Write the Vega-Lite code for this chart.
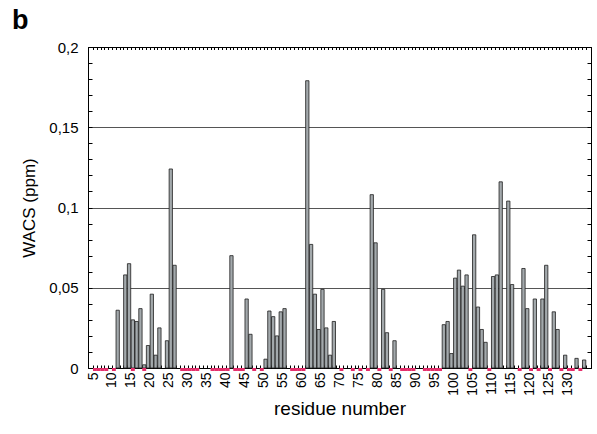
{
  "$schema": "https://vega.github.io/schema/vega-lite/v6.json",
  "width": 503,
  "height": 321,
  "autosize": {"type": "none"},
  "padding": {"left": 88, "top": 47, "right": 6, "bottom": 66},
  "background": "white",
  "config": {
    "font": "Liberation Sans",
    "view": {"stroke": "black", "strokeWidth": 1},
    "axis": {"domainColor": "black", "tickColor": "black", "labelColor": "black", "titleColor": "black", "titleFontWeight": "normal", "labelFlush": false, "labelOverlap": false}
  },
  "title": {"text": "b", "anchor": "start", "frame": "group", "dx": -76, "dy": 33, "offset": 17, "fontSize": 27, "fontWeight": "bold", "font": "Liberation Sans", "color": "black", "baseline": "alphabetic"},
  "datasets": {
    "wacs": [
      {"residue": 11, "wacs": 0.036}, {"residue": 13, "wacs": 0.058}, {"residue": 14, "wacs": 0.065},
      {"residue": 15, "wacs": 0.030}, {"residue": 16, "wacs": 0.029}, {"residue": 17, "wacs": 0.037},
      {"residue": 18, "wacs": 0.002}, {"residue": 19, "wacs": 0.014}, {"residue": 20, "wacs": 0.046},
      {"residue": 21, "wacs": 0.008}, {"residue": 22, "wacs": 0.025}, {"residue": 24, "wacs": 0.017},
      {"residue": 25, "wacs": 0.124}, {"residue": 26, "wacs": 0.064},
      {"residue": 41, "wacs": 0.070}, {"residue": 45, "wacs": 0.043}, {"residue": 46, "wacs": 0.021},
      {"residue": 50, "wacs": 0.0055}, {"residue": 51, "wacs": 0.0355}, {"residue": 52, "wacs": 0.032},
      {"residue": 53, "wacs": 0.020}, {"residue": 54, "wacs": 0.035}, {"residue": 55, "wacs": 0.037},
      {"residue": 61, "wacs": 0.179}, {"residue": 62, "wacs": 0.077}, {"residue": 63, "wacs": 0.046},
      {"residue": 64, "wacs": 0.024}, {"residue": 65, "wacs": 0.049}, {"residue": 66, "wacs": 0.025},
      {"residue": 67, "wacs": 0.008}, {"residue": 68, "wacs": 0.029},
      {"residue": 78, "wacs": 0.108}, {"residue": 79, "wacs": 0.078}, {"residue": 81, "wacs": 0.049},
      {"residue": 82, "wacs": 0.022}, {"residue": 84, "wacs": 0.017},
      {"residue": 97, "wacs": 0.027}, {"residue": 98, "wacs": 0.029}, {"residue": 99, "wacs": 0.009},
      {"residue": 100, "wacs": 0.056}, {"residue": 101, "wacs": 0.061}, {"residue": 102, "wacs": 0.051},
      {"residue": 103, "wacs": 0.058}, {"residue": 105, "wacs": 0.083}, {"residue": 106, "wacs": 0.038},
      {"residue": 107, "wacs": 0.024}, {"residue": 108, "wacs": 0.016}, {"residue": 110, "wacs": 0.057},
      {"residue": 111, "wacs": 0.058}, {"residue": 112, "wacs": 0.116}, {"residue": 114, "wacs": 0.104},
      {"residue": 115, "wacs": 0.052}, {"residue": 118, "wacs": 0.062}, {"residue": 119, "wacs": 0.037},
      {"residue": 121, "wacs": 0.043}, {"residue": 123, "wacs": 0.043}, {"residue": 124, "wacs": 0.064},
      {"residue": 126, "wacs": 0.035}, {"residue": 127, "wacs": 0.024}, {"residue": 129, "wacs": 0.008},
      {"residue": 132, "wacs": 0.006}, {"residue": 134, "wacs": 0.005}
    ],
    "flagged": [
      {"residue": 5}, {"residue": 6}, {"residue": 7}, {"residue": 8}, {"residue": 10}, {"residue": 15},
      {"residue": 18}, {"residue": 28}, {"residue": 29}, {"residue": 30}, {"residue": 31}, {"residue": 32},
      {"residue": 36}, {"residue": 37}, {"residue": 38}, {"residue": 39}, {"residue": 40},
      {"residue": 42}, {"residue": 43}, {"residue": 44}, {"residue": 47}, {"residue": 49},
      {"residue": 57}, {"residue": 58}, {"residue": 59}, {"residue": 60},
      {"residue": 70}, {"residue": 73}, {"residue": 75}, {"residue": 77}, {"residue": 80}, {"residue": 83},
      {"residue": 86}, {"residue": 87}, {"residue": 88}, {"residue": 89},
      {"residue": 92}, {"residue": 93}, {"residue": 94}, {"residue": 95}, {"residue": 96},
      {"residue": 104}, {"residue": 109}, {"residue": 117}, {"residue": 120}, {"residue": 122},
      {"residue": 125}, {"residue": 128}, {"residue": 130}, {"residue": 131}, {"residue": 133}
    ]
  },
  "layer": [
    {
      "data": {"name": "wacs"},
      "mark": {"type": "bar", "size": 3.3, "xOffset": 1.93, "fill": "#a3a9ac", "stroke": "#1e1e1e", "strokeWidth": 0.8},
      "encoding": {
        "x": {
          "field": "residue", "type": "quantitative",
          "scale": {"domain": [5, 135], "nice": false, "zero": false},
          "axis": {
            "orient": "bottom", "grid": false,
            "values": [5,6,7,8,9,10,11,12,13,14,15,16,17,18,19,20,21,22,23,24,25,26,27,28,29,30,31,32,33,34,35,36,37,38,39,40,41,42,43,44,45,46,47,48,49,50,51,52,53,54,55,56,57,58,59,60,61,62,63,64,65,66,67,68,69,70,71,72,73,74,75,76,77,78,79,80,81,82,83,84,85,86,87,88,89,90,91,92,93,94,95,96,97,98,99,100,101,102,103,104,105,106,107,108,109,110,111,112,113,114,115,116,117,118,119,120,121,122,123,124,125,126,127,128,129,130,131,132,133,134,135],
            "labelExpr": "datum.value % 5 == 0 && datum.value < 135 ? datum.label : ''",
            "labelAngle": 270, "labelFontSize": 14, "labelPadding": 7, "tickSize": -3,
            "title": "residue number", "titleFontSize": 19, "titlePadding": 4
          }
        },
        "y": {
          "field": "wacs", "type": "quantitative",
          "scale": {"domain": [0, 0.2], "nice": false},
          "axis": {
            "orient": "left",
            "values": [0,0.01,0.02,0.03,0.04,0.05,0.06,0.07,0.08,0.09,0.1,0.11,0.12,0.13,0.14,0.15,0.16,0.17,0.18,0.19,0.2],
            "labelExpr": "abs(datum.value*20 - round(datum.value*20)) < 0.001 ? replace(format(datum.value, '~g'), '.', ',') : ''",
            "labelFontSize": 15, "labelPadding": 14, "tickSize": -4,
            "grid": true, "gridColor": "#555555", "gridWidth": 1,
            "gridOpacity": {"condition": {"test": "datum.value > 0.01 && datum.value < 0.19 && abs(datum.value*20 - round(datum.value*20)) < 0.001", "value": 1}, "value": 0},
            "title": "WACS (ppm)", "titleFontSize": 17, "titlePadding": 10
          }
        }
      }
    },
    {
      "data": {"name": "flagged"},
      "mark": {"type": "tick", "orient": "horizontal", "size": 3.9, "thickness": 3, "xOffset": 1.93, "yOffset": 1.5, "color": "#e5306c", "opacity": 1},
      "encoding": {
        "x": {
          "field": "residue", "type": "quantitative",
          "axis": {
            "orient": "top", "grid": false, "labels": false, "tickSize": -2.5, "title": null,
            "values": [5,6,7,8,9,10,11,12,13,14,15,16,17,18,19,20,21,22,23,24,25,26,27,28,29,30,31,32,33,34,35,36,37,38,39,40,41,42,43,44,45,46,47,48,49,50,51,52,53,54,55,56,57,58,59,60,61,62,63,64,65,66,67,68,69,70,71,72,73,74,75,76,77,78,79,80,81,82,83,84,85,86,87,88,89,90,91,92,93,94,95,96,97,98,99,100,101,102,103,104,105,106,107,108,109,110,111,112,113,114,115,116,117,118,119,120,121,122,123,124,125,126,127,128,129,130,131,132,133,134,135]
          }
        },
        "y": {
          "datum": 0, "type": "quantitative",
          "axis": {
            "orient": "right", "grid": false, "labels": false, "tickSize": -4, "title": null,
            "values": [0,0.01,0.02,0.03,0.04,0.05,0.06,0.07,0.08,0.09,0.1,0.11,0.12,0.13,0.14,0.15,0.16,0.17,0.18,0.19,0.2]
          }
        }
      }
    }
  ],
  "resolve": {"axis": {"x": "independent", "y": "independent"}}
}
